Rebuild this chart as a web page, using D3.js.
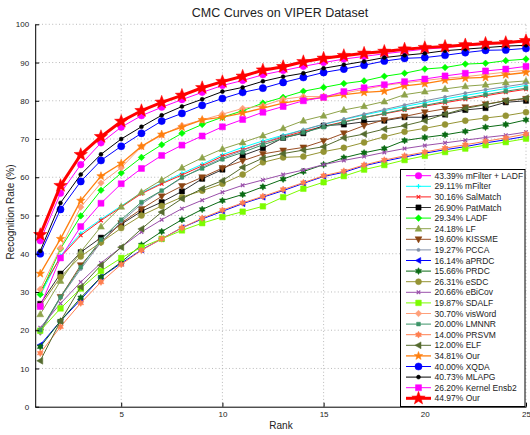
<!DOCTYPE html>
<html>
<head>
<meta charset="utf-8">
<script src="https://cdn.jsdelivr.net/npm/d3@7"></script>
<style>
body { margin: 0; background: #fff; }
text { font-family: "Liberation Sans", Arial, sans-serif; }
</style>
</head>
<body>
<div id="chart"></div>
<script>
var ranks = [1,2,3,4,5,6,7,8,9,10,11,12,13,14,15,16,17,18,19,20,21,22,23,24,25];

var names = ["43.39% mFilter + LADF", "29.11% mFilter", "30.16% SalMatch", "26.90% PatMatch",
    "29.34% LADF", "24.18% LF", "19.60% KISSME", "19.27% PCCA", "16.14% aPRDC", "15.66% PRDC",
    "26.31% eSDC", "20.66% eBiCov", "19.87% SDALF", "30.70% visWord", "20.00% LMNNR",
    "14.00% PRSVM", "12.00% ELF", "34.81% Our", "40.00% XQDA", "40.73% MLAPG",
    "26.20% Kernel Ensb2", "44.97% Our"];

var mFilterLADF = [43.39,55.8,63.3,69.0,73.1,76.1,78.3,80.3,82.2,84.0,85.3,86.8,87.9,89.0,90.0,90.9,91.6,92.3,92.9,93.5,93.9,94.4,94.8,95.1,95.4];
var mFilter     = [29.11,39.5,45.3,49.0,52.5,55.9,58.5,61.0,63.4,65.9,67.8,69.5,71.0,72.4,73.8,75.1,76.3,77.4,78.5,79.5,80.5,81.4,82.3,83.2,84.0];
var salMatch    = [30.16,39.1,44.8,48.7,52.2,55.7,58.3,60.6,63.0,65.5,67.2,69.0,70.5,72.0,73.3,74.5,75.6,76.6,77.6,78.6,79.5,80.4,81.3,82.2,83.0];
var patMatch    = [26.90,34.8,40.4,44.2,47.7,51.1,53.5,56.3,59.6,62.0,65.7,67.6,70.3,71.5,73.5,73.8,74.5,74.8,75.7,75.7,76.4,77.6,78.1,79.6,80.0];
var ladf        = [29.34,41.3,49.9,56.6,61.1,65.2,68.5,71.5,73.8,75.7,77.4,79.4,80.9,82.5,83.5,84.5,85.2,86.4,87.2,88.3,88.7,89.6,89.8,90.5,90.9];
var lf          = [24.18,32.9,40.5,47.1,52.3,56.1,59.3,62.5,65.1,67.4,69.1,70.9,72.8,74.8,76.1,77.6,78.6,79.8,81.6,82.4,83.1,83.8,84.2,84.8,85.2];
var kissme      = [19.60,28.7,37.0,43.0,48.0,51.7,55.0,57.7,60.0,62.4,64.3,66.1,67.0,67.8,69.5,71.5,73.5,75.0,75.9,77.0,77.9,78.3,79.1,80.0,80.5];
var pcca        = [19.27,28.5,36.0,43.0,48.4,53.0,56.5,59.8,62.6,65.0,67.0,69.0,70.8,72.4,73.9,75.2,76.5,77.7,78.9,80.0,81.0,82.0,82.9,83.7,84.5];
var aprdc       = [16.14,22.4,28.0,33.9,37.5,41.0,43.9,46.8,49.1,51.1,53.1,54.8,56.5,58.4,60.2,61.3,63.0,64.2,65.3,66.3,67.2,68.0,69.0,69.8,70.7];
var prdc        = [15.66,22.4,28.5,33.9,37.8,42.3,45.8,48.9,51.6,53.9,55.5,57.5,59.5,61.5,63.3,65.1,66.4,67.5,69.6,70.4,71.1,72.0,73.1,73.8,75.0];
var esdc        = [26.31,33.9,39.3,43.0,46.7,50.0,52.5,54.8,56.5,58.3,60.7,63.9,65.2,65.4,66.7,67.7,69.1,70.6,71.9,72.8,73.8,74.8,75.5,76.1,77.0];
var ebicov      = [20.66,27.0,32.6,37.6,41.7,45.7,48.9,51.8,54.0,56.1,57.9,59.3,60.7,61.9,63.3,64.4,65.4,66.5,67.5,68.3,69.0,69.7,70.4,71.0,71.8];
var sdalf       = [19.87,25.7,30.9,35.5,38.9,41.7,43.9,46.1,48.0,49.6,51.0,52.4,54.8,57.0,58.7,60.3,62.0,63.2,64.5,65.6,66.6,67.5,68.4,69.2,70.1];
var visWord     = [30.70,41.5,52.2,58.5,62.5,68.0,71.0,73.5,75.0,76.5,78.0,78.7,80.4,81.1,81.1,82.0,83.0,84.0,84.7,85.3,85.9,86.3,86.9,87.5,88.0];
var lmnnr       = [20.00,28.7,36.5,43.7,48.9,53.5,56.5,60.0,62.3,64.7,66.5,68.5,70.2,71.7,73.1,74.4,75.6,76.7,77.8,78.8,79.8,80.7,81.6,82.5,83.3];
var prsvm       = [14.00,20.9,27.1,32.6,37.2,40.9,43.9,46.8,49.3,51.4,53.3,55.0,56.8,58.6,60.4,61.6,63.2,64.5,65.6,66.6,67.6,68.5,69.4,70.3,71.3];
var elf         = [12.00,22.4,31.3,37.0,41.7,46.5,50.9,54.4,57.0,59.1,62.6,65.0,66.2,67.1,68.0,70.3,71.3,72.6,73.5,74.8,76.5,78.0,79.0,80.0,80.7];
var ourOrange   = [34.81,43.9,53.9,60.3,63.6,68.1,71.2,73.1,75.0,75.7,76.8,78.1,79.4,80.3,80.9,81.6,82.2,82.5,83.9,84.5,85.4,85.9,86.1,86.8,87.4];
var xqda        = [40.00,51.6,58.9,64.4,68.1,71.5,74.7,76.7,78.8,80.6,82.2,83.3,84.8,86.1,87.4,88.3,89.3,90.4,91.1,91.3,91.9,92.6,93.2,93.3,93.7];
var mlapg       = [40.73,53.3,60.7,66.0,70.0,73.2,76.2,78.5,80.4,82.4,83.5,85.1,86.3,87.2,88.5,89.4,90.3,91.3,91.9,92.4,93.1,93.5,93.9,94.3,94.5];
var kernelEnsb2 = [26.20,38.9,47.1,53.2,58.3,62.3,65.7,68.4,70.8,73.2,75.1,77.0,78.5,80.0,80.9,82.4,83.4,84.2,85.0,85.7,86.5,87.2,87.8,88.3,89.0];
var ourRed      = [44.97,57.8,65.9,70.6,74.6,77.4,79.6,81.4,83.4,85.0,86.4,88.0,88.9,90.2,91.1,91.8,92.4,92.9,93.5,93.9,94.2,94.6,95.0,95.2,95.7];

var values = [mFilterLADF, mFilter, salMatch, patMatch, ladf, lf, kissme, pcca, aprdc, prdc,
    esdc, ebicov, sdalf, visWord, lmnnr, prsvm, elf, ourOrange, xqda, mlapg, kernelEnsb2, ourRed];

// line colour, marker colour, marker shape, marker radius, line width
var styles = [
    {c:"#ff00ff", m:"#ff00ff", s:"circle", r:3.3, w:1},
    {c:"#00ffff", m:"#00ffff", s:"plus",   r:2.2, w:1},
    {c:"#ff2020", m:"#ff2020", s:"x",      r:1.8, w:1},
    {c:"#333333", m:"#000000", s:"square", r:2.6, w:1},
    {c:"#00ff00", m:"#00ff00", s:"diamond",r:3.3, w:1},
    {c:"#8ea34a", m:"#8ea34a", s:"triU",   r:3.6, w:1},
    {c:"#9a4f26", m:"#8b4513", s:"triD",   r:3.6, w:1},
    {c:"#8090a8", m:"#8090a8", s:"dot",    r:1.6, w:1},
    {c:"#0000ff", m:"#0000ff", s:"triL",   r:3.2, w:1},
    {c:"#0b6b14", m:"#0b6b14", s:"hex",    r:3.4, w:1},
    {c:"#959434", m:"#959434", s:"circle", r:3.0, w:1},
    {c:"#9a50aa", m:"#9a50aa", s:"x",      r:1.8, w:1},
    {c:"#7cfc00", m:"#7cfc00", s:"square", r:2.8, w:1},
    {c:"#ffa07a", m:"#ffa07a", s:"diamond",r:3.3, w:1},
    {c:"#3d9468", m:"#3d9468", s:"square", r:1.9, w:1},
    {c:"#ff7f50", m:"#ff7f50", s:"hex",    r:3.4, w:1},
    {c:"#556b2f", m:"#556b2f", s:"triL",   r:3.6, w:1},
    {c:"#ff7f0e", m:"#ff7f0e", s:"star",   r:4.4, w:1.3},
    {c:"#0000ff", m:"#0000ff", s:"circle", r:3.6, w:1},
    {c:"#000000", m:"#000000", s:"dot",    r:2.0, w:1},
    {c:"#ff00ff", m:"#ff00ff", s:"square", r:3.0, w:1},
    {c:"#ff0000", m:"#ff0000", s:"star",   r:7.0, w:3}
];

function starPath(n, r, inner) {
    var pts = [];
    for (var i = 0; i < 2 * n; i++) {
        var a = -Math.PI / 2 + i * Math.PI / n;
        var rr = (i % 2 === 0) ? r : r * inner;
        pts.push([rr * Math.cos(a), rr * Math.sin(a)]);
    }
    return "M" + pts.map(function(p) { return p[0].toFixed(2) + "," + p[1].toFixed(2); }).join("L") + "Z";
}

function shapePath(s, r) {
    if (s === "circle" || s === "dot") return d3.symbol().type(d3.symbolCircle).size(Math.PI * r * r)();
    if (s === "square") return "M" + (-r) + "," + (-r) + "h" + (2 * r) + "v" + (2 * r) + "h" + (-2 * r) + "Z";
    if (s === "diamond") return "M0," + (-r) + "L" + r + ",0L0," + r + "L" + (-r) + ",0Z";
    if (s === "triU") return "M0," + (-r) + "L" + (r * 0.95) + "," + (r * 0.7) + "L" + (-r * 0.95) + "," + (r * 0.7) + "Z";
    if (s === "triD") return "M0," + r + "L" + (r * 0.95) + "," + (-r * 0.7) + "L" + (-r * 0.95) + "," + (-r * 0.7) + "Z";
    if (s === "triL") return "M" + (-r) + ",0L" + (r * 0.7) + "," + (-r * 0.95) + "L" + (r * 0.7) + "," + (r * 0.95) + "Z";
    if (s === "star") return starPath(5, r, 0.42);
    if (s === "hex") return starPath(6, r, 0.58);
    if (s === "plus") return "M" + (-r) + ",0H" + r + "M0," + (-r) + "V" + r;
    if (s === "x") return "M" + (-r) + "," + (-r) + "L" + r + "," + r + "M" + (-r) + "," + r + "L" + r + "," + (-r);
    return "";
}

function drawMarker(g, st, cx, cy) {
    var p = g.append("path")
        .attr("d", shapePath(st.s, st.r))
        .attr("transform", "translate(" + cx + "," + cy + ")");
    if (st.s === "plus" || st.s === "x") {
        p.attr("fill", "none").attr("stroke", st.m).attr("stroke-width", 1.2);
    } else {
        p.attr("fill", st.m).attr("stroke", st.m).attr("stroke-width", 0.5);
    }
}

var svg = d3.select("#chart").append("svg")
    .attr("width", 530)
    .attr("height", 435);

var x = d3.scaleLinear().domain([0.75, 25]).range([35.2, 526]);
var y = d3.scaleLinear().domain([0, 100]).range([406.7, 24.3]);

// dotted grid
var yGrid = [10,20,30,40,50,60,70,80,90,100];
var xGrid = [5,10,15,20,25];
svg.append("g").selectAll("line")
    .data(yGrid).enter().append("line")
    .attr("x1", x(0.75)).attr("x2", x(25))
    .attr("y1", function(d) { return y(d); }).attr("y2", function(d) { return y(d); })
    .attr("stroke", "#a8a8a8").attr("stroke-width", 0.8).attr("stroke-dasharray", "1,2.4");
svg.append("g").selectAll("line")
    .data(xGrid).enter().append("line")
    .attr("y1", y(0)).attr("y2", y(100))
    .attr("x1", function(d) { return x(d); }).attr("x2", function(d) { return x(d); })
    .attr("stroke", "#a8a8a8").attr("stroke-width", 0.8).attr("stroke-dasharray", "1,2.4");

// curves
var line = d3.line()
    .x(function(d, i) { return x(ranks[i]); })
    .y(function(d) { return y(d); });

values.forEach(function(vals, k) {
    var st = styles[k];
    var g = svg.append("g");
    g.append("path")
        .attr("d", line(vals))
        .attr("fill", "none")
        .attr("stroke", st.c)
        .attr("stroke-width", st.w)
        .attr("stroke-linejoin", "round");
    vals.forEach(function(v, i) { drawMarker(g, st, x(ranks[i]), y(v)); });
});

// axes
svg.append("g")
    .attr("transform", "translate(" + x(0.75) + ",0)")
    .call(d3.axisLeft(y).tickValues([0,10,20,30,40,50,60,70,80,90,100]).tickSizeInner(-4).tickSizeOuter(0).tickPadding(6))
    .call(function(g) {
        g.selectAll("text").attr("font-size", 8).attr("fill", "#222").attr("font-family", "Liberation Sans, Arial, sans-serif");
        g.select(".domain").attr("stroke", "#000");
    });

svg.append("g")
    .attr("transform", "translate(0," + y(0) + ")")
    .call(d3.axisBottom(x).tickValues([5,10,15,20,25]).tickSizeInner(-4).tickSizeOuter(0).tickPadding(4.5))
    .call(function(g) {
        g.selectAll("text").attr("font-size", 8).attr("fill", "#222").attr("font-family", "Liberation Sans, Arial, sans-serif");
        g.select(".domain").attr("stroke", "#000");
    });

svg.append("text")
    .attr("x", 280).attr("y", 16.5)
    .attr("text-anchor", "middle")
    .attr("font-size", 12.5).attr("fill", "#222")
    .text("CMC Curves on VIPER Dataset");

svg.append("text")
    .attr("x", 281).attr("y", 429)
    .attr("text-anchor", "middle")
    .attr("font-size", 10).attr("fill", "#222")
    .text("Rank");

svg.append("text")
    .attr("transform", "translate(14,212) rotate(-90)")
    .attr("text-anchor", "middle")
    .attr("font-size", 10).attr("fill", "#222")
    .text("Recognition Rate (%)");

// legend
var legend = svg.append("g");
legend.append("rect")
    .attr("x", 400.5).attr("y", 169.5)
    .attr("width", 124.5).attr("height", 237)
    .attr("fill", "#fff").attr("stroke", "#000").attr("stroke-width", 1);

names.forEach(function(name, k) {
    var st = styles[k];
    var cy = 175.7 + k * 10.6;
    var g = legend.append("g");
    g.append("line")
        .attr("x1", 406).attr("x2", 431)
        .attr("y1", cy).attr("y2", cy)
        .attr("stroke", st.c).attr("stroke-width", st.w);
    drawMarker(g, st, 418.5, cy);
    g.append("text")
        .attr("x", 434.5).attr("y", cy + 3)
        .attr("font-size", 8.5).attr("fill", "#222")
        .text(name);
});
</script>
</body>
</html>
